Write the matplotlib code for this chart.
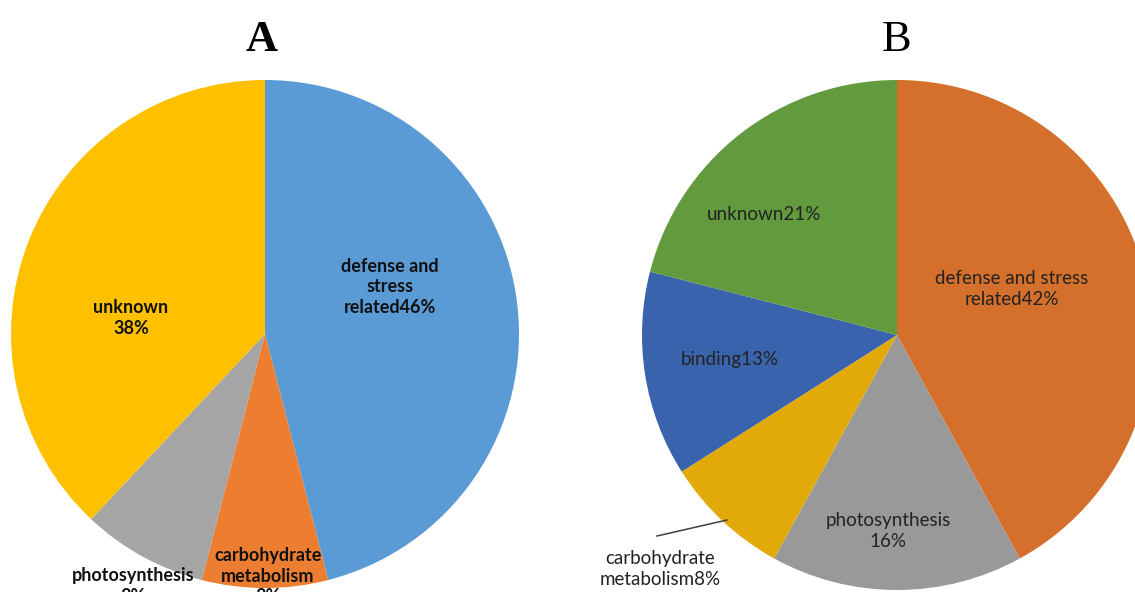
import matplotlib.pyplot as plt

# panel A
a_labels = ["defense and\nstress\nrelated46%", "carbohydrate\nmetabolism\n8%", "photosynthesis\n8%", "unknown\n38%"]
a_values = [46, 8, 8, 38]
a_colors = ["#5B9BD5", "#ED7D31", "#A5A5A5", "#FFC000"]

# panel B
b_labels = ["defense and stress\nrelated42%", "photosynthesis\n16%", "carbohydrate\nmetabolism8%", "binding13%", "unknown21%"]
b_values = [42, 16, 8, 13, 21]
b_colors = ["#D4702B", "#999999", "#E2AA08", "#3A63AD", "#639A3E"]

W, H = 1135, 592
fig = plt.figure(figsize=(W / 100, H / 100), dpi=100)
ax = fig.add_axes([0, 0, 1, 1])

ax.pie(a_values, colors=a_colors, startangle=90, counterclock=False,
       center=(265, H - 334), radius=254, frame=True)
ax.pie(b_values, colors=b_colors, startangle=90, counterclock=False,
       center=(897, H - 335), radius=255, frame=True)

ax.set_xlim(0, W)
ax.set_ylim(0, H)
ax.set_aspect("equal")
ax.axis("off")

# label spots (pixels from top-left), picked by eye
a_pos = [(390, 287), (268, 576), (133, 586), (131, 318)]
b_pos = [(1012, 289), (888, 531), (660, 569), (730, 360), (764, 215)]

for s, (x, y) in zip(a_labels, a_pos):
    ax.text(x, H - y, s, ha="center", va="center", fontsize=13, fontweight="bold",
            family="Lato", color="#111111", linespacing=1.22)
for s, (x, y) in zip(b_labels, b_pos):
    ax.text(x, H - y, s, ha="center", va="center", fontsize=13.5,
            family="Lato", color="#222222", linespacing=1.26)

# leader line for carbohydrate metabolism in B
ax.plot([657, 727], [H - 536, H - 520], color="#404040", lw=1.1)

ax.text(262, H - 40, "A", ha="center", va="center", fontsize=32, fontweight="bold",
        family="Liberation Serif")
ax.text(897, H - 40, "B", ha="center", va="center", fontsize=32,
        family="Liberation Serif")

fig.savefig("out.png", dpi=100)
